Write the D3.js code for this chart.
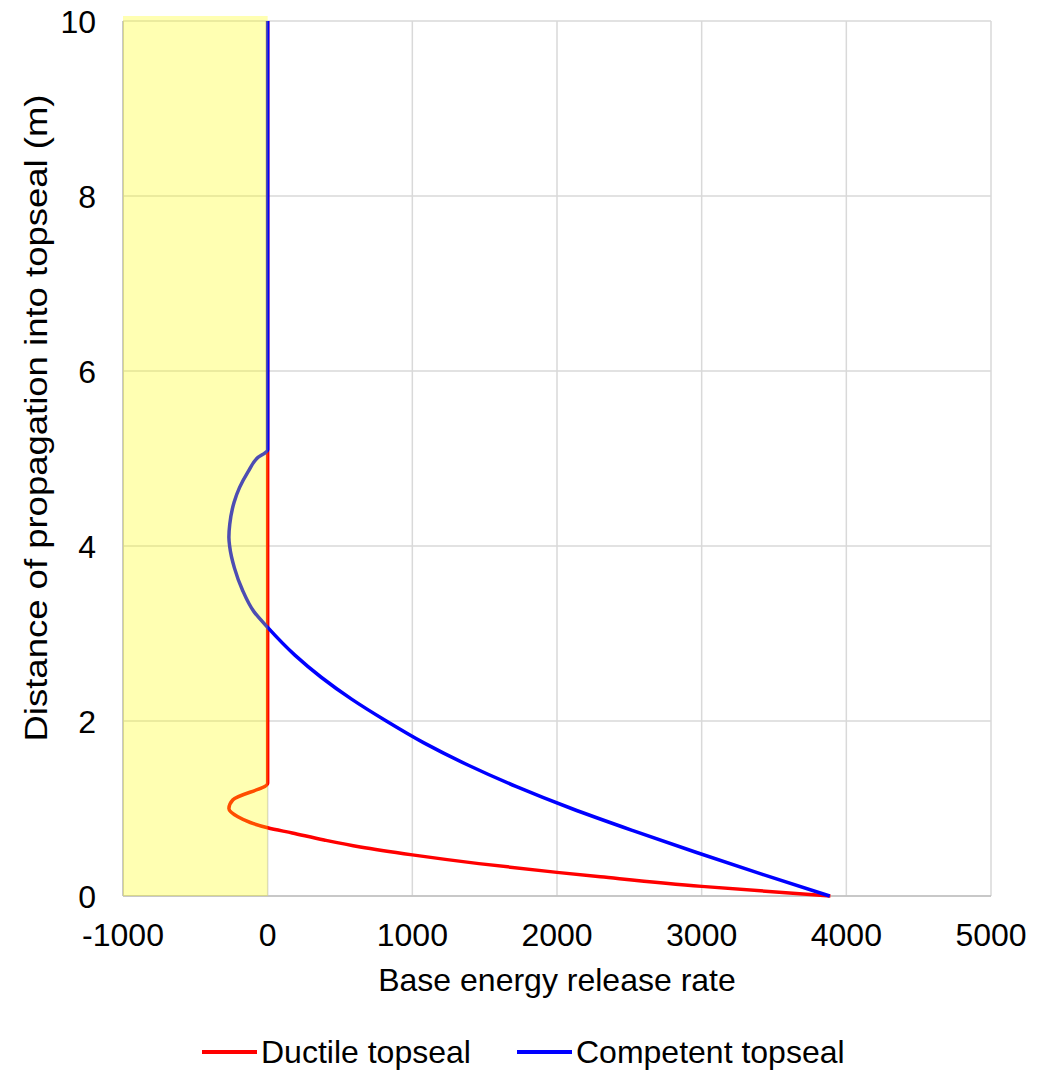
<!DOCTYPE html>
<html lang="en">
<head>
  <meta charset="UTF-8">
  <title>Base energy release rate</title>
  <style>
    body { margin: 0; background: #fff; }
    text { font-family: "Liberation Sans", Arial, sans-serif; fill: #000; }
  </style>
</head>
<body>
<script src="https://cdn.jsdelivr.net/npm/d3@7"></script>
<script>
// distance into topseal (m) and base energy release rate
const ductileDist = [0, 0.11, 0.22, 0.27, 0.37, 0.47, 0.56, 0.64, 0.72, 0.78, 0.84, 0.905, 1.0, 1.1, 1.29, 10]
const ductileRate = [3890, 3000, 2300, 2000, 1460, 1000, 640, 390, 170, 0, -120, -206, -268, -240, 0, 0]

const competentDist = [0, 0.25, 0.5, 0.75, 1.0, 1.25, 1.5, 1.75, 2.0, 2.25, 2.5, 2.75, 3.07,
  3.25, 3.5, 3.75, 4.0, 4.1, 4.25, 4.5, 4.67, 4.85, 5.0, 5.1, 10]
const competentRate = [3885, 3415, 2960, 2520, 2100, 1720, 1380, 1080, 820, 580, 370, 190, 0,
  -95, -175, -230, -263, -268, -262, -232, -194, -135, -75, 0, 0]

const xTicks = [-1000, 0, 1000, 2000, 3000, 4000, 5000]
const yTicks = [0, 2, 4, 6, 8, 10]
const shadeRange = [-1000, 0]

const seriesNames = ["Ductile topseal", "Competent topseal"]
const seriesColors = ["#ff0000", "#0000ff"]

const width = 1050, height = 1071
const margin = {left: 123, right: 59, top: 21, bottom: 175}

const svg = d3.select("body").append("svg")
  .attr("width", width)
  .attr("height", height)

const x = d3.scaleLinear().domain([-1000, 5000]).range([margin.left, width - margin.right])
const y = d3.scaleLinear().domain([0, 10]).range([height - margin.bottom, margin.top])

// grid
svg.append("g")
  .selectAll("line")
  .data(xTicks)
  .enter().append("line")
  .attr("x1", d => x(d)).attr("x2", d => x(d))
  .attr("y1", y(0)).attr("y2", y(10))
  .attr("stroke", "#d9d9d9").attr("stroke-width", 1.5)

svg.append("g")
  .selectAll("line")
  .data(yTicks)
  .enter().append("line")
  .attr("x1", x(-1000)).attr("x2", x(5000))
  .attr("y1", d => y(d)).attr("y2", d => y(d))
  .attr("stroke", "#d9d9d9").attr("stroke-width", 1.5)

// axis lines
svg.append("line")
  .attr("x1", x(-1000)).attr("x2", x(5000))
  .attr("y1", y(0)).attr("y2", y(0))
  .attr("stroke", "#bfbfbf").attr("stroke-width", 1.5)
svg.append("line")
  .attr("x1", x(-1000)).attr("x2", x(-1000))
  .attr("y1", y(0)).attr("y2", y(10))
  .attr("stroke", "#bfbfbf").attr("stroke-width", 1.5)

// tick labels
svg.append("g")
  .selectAll("text")
  .data(xTicks)
  .enter().append("text")
  .attr("x", d => x(d))
  .attr("y", y(0) + 50)
  .attr("text-anchor", "middle")
  .style("font-size", "32px")
  .text(d => d)

svg.append("g")
  .selectAll("text")
  .data(yTicks)
  .enter().append("text")
  .attr("x", x(-1000) - 27)
  .attr("y", d => y(d) + 11.5)
  .attr("text-anchor", "end")
  .style("font-size", "32px")
  .text(d => d)

// lines
const series = [
  {name: seriesNames[0], color: seriesColors[0], pts: ductileDist.map((d, i) => [ductileRate[i], d])},
  {name: seriesNames[1], color: seriesColors[1], pts: competentDist.map((d, i) => [competentRate[i], d])}
]

const line = d3.line()
  .x(d => x(d[0]))
  .y(d => y(d[1]))
  .curve(d3.curveMonotoneY)

svg.append("g")
  .selectAll("path")
  .data(series)
  .enter().append("path")
  .attr("d", d => line(d.pts))
  .attr("fill", "none")
  .attr("stroke", d => d.color)
  .attr("stroke-width", 3.5)
  .attr("stroke-linejoin", "round")

// yellow shaded band, drawn over the lines
svg.append("rect")
  .attr("x", x(shadeRange[0]))
  .attr("y", y(10) - 5)
  .attr("width", x(shadeRange[1]) - x(shadeRange[0]))
  .attr("height", y(0) - y(10) + 5)
  .attr("fill", "rgb(255,255,0)")
  .attr("fill-opacity", 0.3)

// axis titles
svg.append("text")
  .attr("x", x(2000))
  .attr("y", y(0) + 95)
  .attr("text-anchor", "middle")
  .style("font-size", "32px")
  .text("Base energy release rate")

svg.append("text")
  .attr("transform", "translate(47,418) rotate(-90)")
  .attr("text-anchor", "middle")
  .attr("textLength", 647)
  .attr("lengthAdjust", "spacingAndGlyphs")
  .style("font-size", "32px")
  .text("Distance of propagation into topseal (m)")

// legend
const legendX = [202, 517]
const lg = svg.append("g")
  .selectAll("g")
  .data(series)
  .enter().append("g")
  .attr("transform", (d, i) => "translate(" + legendX[i] + ",1052)")
lg.append("line")
  .attr("x1", 0).attr("x2", 55)
  .attr("stroke", d => d.color)
  .attr("stroke-width", 4)
lg.append("text")
  .attr("x", 59)
  .attr("y", 11)
  .style("font-size", "32px")
  .text(d => d.name)
</script>
</body>
</html>
